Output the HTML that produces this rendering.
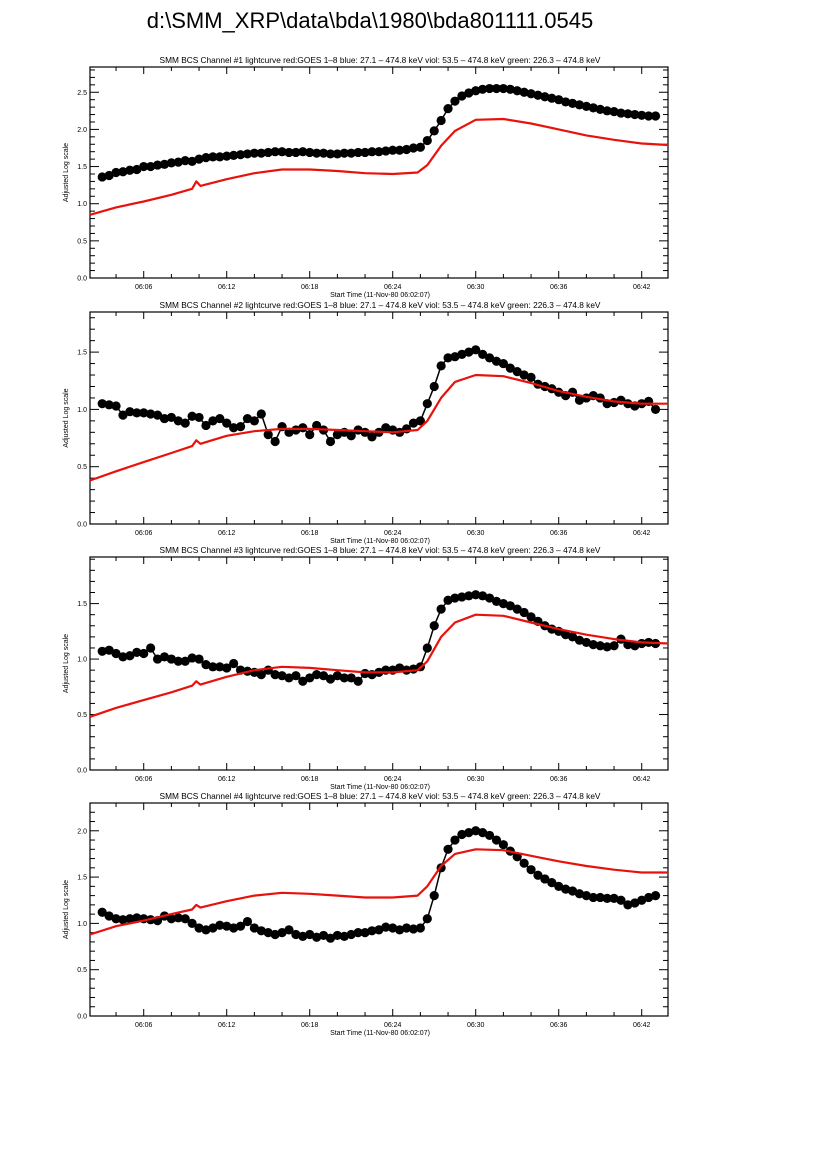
<!DOCTYPE html>
<html><head><meta charset="utf-8">
<style>
html,body{margin:0;padding:0;background:#fff;}
svg{display:block;font-family:"Liberation Sans",sans-serif;}
</style></head>
<body>
<svg id="fig" width="826" height="1169" viewBox="0 0 826 1169" xmlns="http://www.w3.org/2000/svg">
<rect width="826" height="1169" fill="#fff"/>
<text x="370" y="28" font-size="22" text-anchor="middle" fill="#000">d:\SMM_XRP\data\bda\1980\bda801111.0545</text>
</svg>
<script>
// x in minutes after 06:00
const xMin = 2.117, xMax = 43.9;
const xTickLabels = ["06:06","06:12","06:18","06:24","06:30","06:36","06:42"];
const xTickMinutes = [6,12,18,24,30,36,42];
const blackT0 = 3.0, blackDt = 0.5;
const ch1Black = [1.36,1.38,1.42,1.43,1.45,1.46,1.50,1.50,1.52,1.53,1.55,1.56,1.58,1.57,1.60,1.62,1.63,1.63,1.64,1.65,1.66,1.67,1.68,1.68,1.69,1.70,1.70,1.69,1.69,1.70,1.69,1.68,1.68,1.67,1.67,1.68,1.68,1.69,1.69,1.70,1.70,1.71,1.72,1.72,1.73,1.75,1.76,1.85,1.98,2.12,2.28,2.38,2.45,2.49,2.52,2.54,2.55,2.55,2.55,2.54,2.52,2.50,2.48,2.46,2.44,2.42,2.40,2.37,2.35,2.33,2.31,2.29,2.27,2.25,2.24,2.22,2.21,2.20,2.19,2.18,2.18];
const ch2Black = [1.05,1.04,1.03,0.95,0.98,0.97,0.97,0.96,0.95,0.92,0.93,0.90,0.88,0.94,0.93,0.86,0.90,0.92,0.88,0.84,0.85,0.92,0.90,0.96,0.78,0.72,0.85,0.80,0.82,0.84,0.78,0.86,0.82,0.72,0.78,0.80,0.77,0.82,0.80,0.76,0.80,0.84,0.82,0.80,0.83,0.88,0.90,1.05,1.20,1.38,1.45,1.46,1.48,1.50,1.52,1.48,1.45,1.42,1.40,1.36,1.33,1.30,1.28,1.22,1.20,1.18,1.15,1.12,1.15,1.08,1.10,1.12,1.10,1.05,1.06,1.08,1.05,1.03,1.05,1.07,1.00];
const ch3Black = [1.07,1.08,1.05,1.02,1.03,1.06,1.05,1.10,1.00,1.02,1.00,0.98,0.98,1.01,1.00,0.95,0.93,0.93,0.92,0.96,0.90,0.89,0.88,0.86,0.90,0.86,0.85,0.83,0.85,0.80,0.83,0.86,0.85,0.82,0.85,0.83,0.83,0.80,0.87,0.86,0.88,0.90,0.90,0.92,0.90,0.91,0.93,1.10,1.30,1.45,1.53,1.55,1.56,1.57,1.58,1.57,1.55,1.52,1.50,1.48,1.45,1.42,1.38,1.34,1.30,1.27,1.25,1.22,1.20,1.17,1.15,1.13,1.12,1.11,1.12,1.18,1.13,1.12,1.14,1.15,1.14];
const ch4Black = [1.12,1.08,1.05,1.04,1.05,1.06,1.05,1.04,1.03,1.08,1.05,1.06,1.05,1.00,0.95,0.93,0.95,0.98,0.97,0.95,0.97,1.02,0.95,0.92,0.90,0.88,0.90,0.93,0.88,0.86,0.88,0.85,0.87,0.84,0.87,0.86,0.88,0.90,0.90,0.92,0.93,0.96,0.95,0.93,0.95,0.94,0.95,1.05,1.30,1.60,1.80,1.90,1.96,1.98,2.00,1.98,1.95,1.90,1.85,1.78,1.72,1.65,1.58,1.52,1.48,1.44,1.40,1.37,1.35,1.32,1.30,1.28,1.28,1.27,1.27,1.25,1.20,1.22,1.25,1.28,1.30];
const redT = [2.12,4,6,8,9.5,9.8,10.1,12,14,16,18,20,22,24,25.8,26.5,27.5,28.5,30,32,34,36,38,40,42,43.9];
const ch1Red = [0.85,0.95,1.03,1.12,1.20,1.30,1.24,1.33,1.41,1.46,1.46,1.44,1.41,1.40,1.42,1.52,1.78,1.98,2.13,2.14,2.08,2.00,1.92,1.86,1.81,1.79];
const ch2Red = [0.38,0.46,0.54,0.62,0.68,0.73,0.70,0.77,0.81,0.83,0.83,0.82,0.81,0.80,0.82,0.90,1.10,1.24,1.30,1.29,1.23,1.16,1.11,1.07,1.05,1.05];
const ch3Red = [0.48,0.56,0.63,0.70,0.76,0.80,0.77,0.84,0.90,0.93,0.92,0.90,0.88,0.88,0.90,0.98,1.20,1.33,1.40,1.39,1.33,1.27,1.22,1.18,1.15,1.14];
const ch4Red = [0.88,0.97,1.03,1.10,1.15,1.20,1.17,1.24,1.30,1.33,1.32,1.30,1.28,1.28,1.30,1.40,1.62,1.75,1.80,1.79,1.73,1.67,1.62,1.58,1.55,1.55];
const yMaxes = [2.84,1.85,1.92,2.30];
const yTickLabels = ["0.0","0.5","1.0","1.5","2.0","2.5"];
const yTickValues = [0,0.5,1.0,1.5,2.0,2.5];

const NS="http://www.w3.org/2000/svg";
const svg=document.getElementById('fig');
const L=90,R=668;
const tops=[67,312,557,803], bots=[278,524,770,1016];
const blacks=[ch1Black,ch2Black,ch3Black,ch4Black];
const reds=[ch1Red,ch2Red,ch3Red,ch4Red];
function mk(tag,attrs,parent){const e=document.createElementNS(NS,tag);for(const k in attrs)e.setAttribute(k,attrs[k]);parent.appendChild(e);return e;}
function xs(t){return L+(t-xMin)/(xMax-xMin)*(R-L);}

for(let p=0;p<4;p++){
  const T=tops[p],B=bots[p],ym=yMaxes[p];
  const ys=v=>B-v/ym*(B-T);
  const g=mk('g',{},svg);
  
  
  const title=mk('text',{x:380,y:T-4,'font-size':8.3,'text-anchor':'middle'},g);
  
  
  title.textContent='SMM BCS Channel #'+(p+1)+' lightcurve  red:GOES 1\u20138  blue: 27.1 \u2013 474.8 keV  viol: 53.5 \u2013 474.8 keV  green: 226.3 \u2013 474.8 keV';
  const frame=mk('rect',{x:L,y:T,width:R-L,height:B-T,fill:'none',stroke:'#000','stroke-width':1.2},g);
  
  
  // x ticks
  for(let m=4;m<=43;m+=2){
    const x=xs(m), major=(m%6===0), len=major?7:4;
    mk('line',{x1:x,y1:B,x2:x,y2:B-len,stroke:'#000','stroke-width':1},g);
    mk('line',{x1:x,y1:T,x2:x,y2:T+len,stroke:'#000','stroke-width':1},g);
  }
  xTickMinutes.forEach((m,i)=>{
    const t=mk('text',{x:xs(m),y:B+11,'font-size':7,'text-anchor':'middle'},g);
    
    
    t.textContent=xTickLabels[i];
  });
  const xl=mk('text',{x:380,y:B+19,'font-size':7,'text-anchor':'middle'},g);
  
  
  xl.textContent='Start Time (11-Nov-80 06:02:07)';
  // y ticks
  for(let k=0;k*0.1<=ym+1e-9;k++){
    const y=ys(k*0.1), major=(k%5===0), len=major?9:5;
    mk('line',{x1:L,y1:y,x2:L+len,y2:y,stroke:'#000','stroke-width':1},g);
    mk('line',{x1:R,y1:y,x2:R-len,y2:y,stroke:'#000','stroke-width':1},g);
  }
  yTickValues.forEach((v,i)=>{
    if(v>ym)return;
    const t=mk('text',{x:L-3,y:ys(v)+2.5,'font-size':7,'text-anchor':'end'},g);
    
    
    t.textContent=yTickLabels[i];
  });
  const yl=mk('text',{x:0,y:0,'font-size':7,'text-anchor':'middle',transform:'translate('+(L-22)+','+((T+B)/2)+') rotate(-90)'},g);
  
  
  yl.textContent='Adjusted Log scale';
  // black series
  const bk=blacks[p];
  const bpts=bk.map((v,i)=>xs(blackT0+i*blackDt).toFixed(1)+','+ys(v).toFixed(1)).join(' ');
  const bl=mk('polyline',{points:bpts,fill:'none',stroke:'#000','stroke-width':1.5},g);
  
  
  bk.forEach((v,i)=>{
    const c=mk('circle',{cx:xs(blackT0+i*blackDt),cy:ys(v),r:4.6,fill:'#000'},g);
    
    
  });
  // red series
  const rd=reds[p];
  const rpts=rd.map((v,i)=>xs(redT[i]).toFixed(1)+','+ys(v).toFixed(1)).join(' ');
  const rl=mk('polyline',{points:rpts,fill:'none',stroke:'#e8120c','stroke-width':2.2,'stroke-linejoin':'round'},g);
  
  
}
</script>
</body></html>
